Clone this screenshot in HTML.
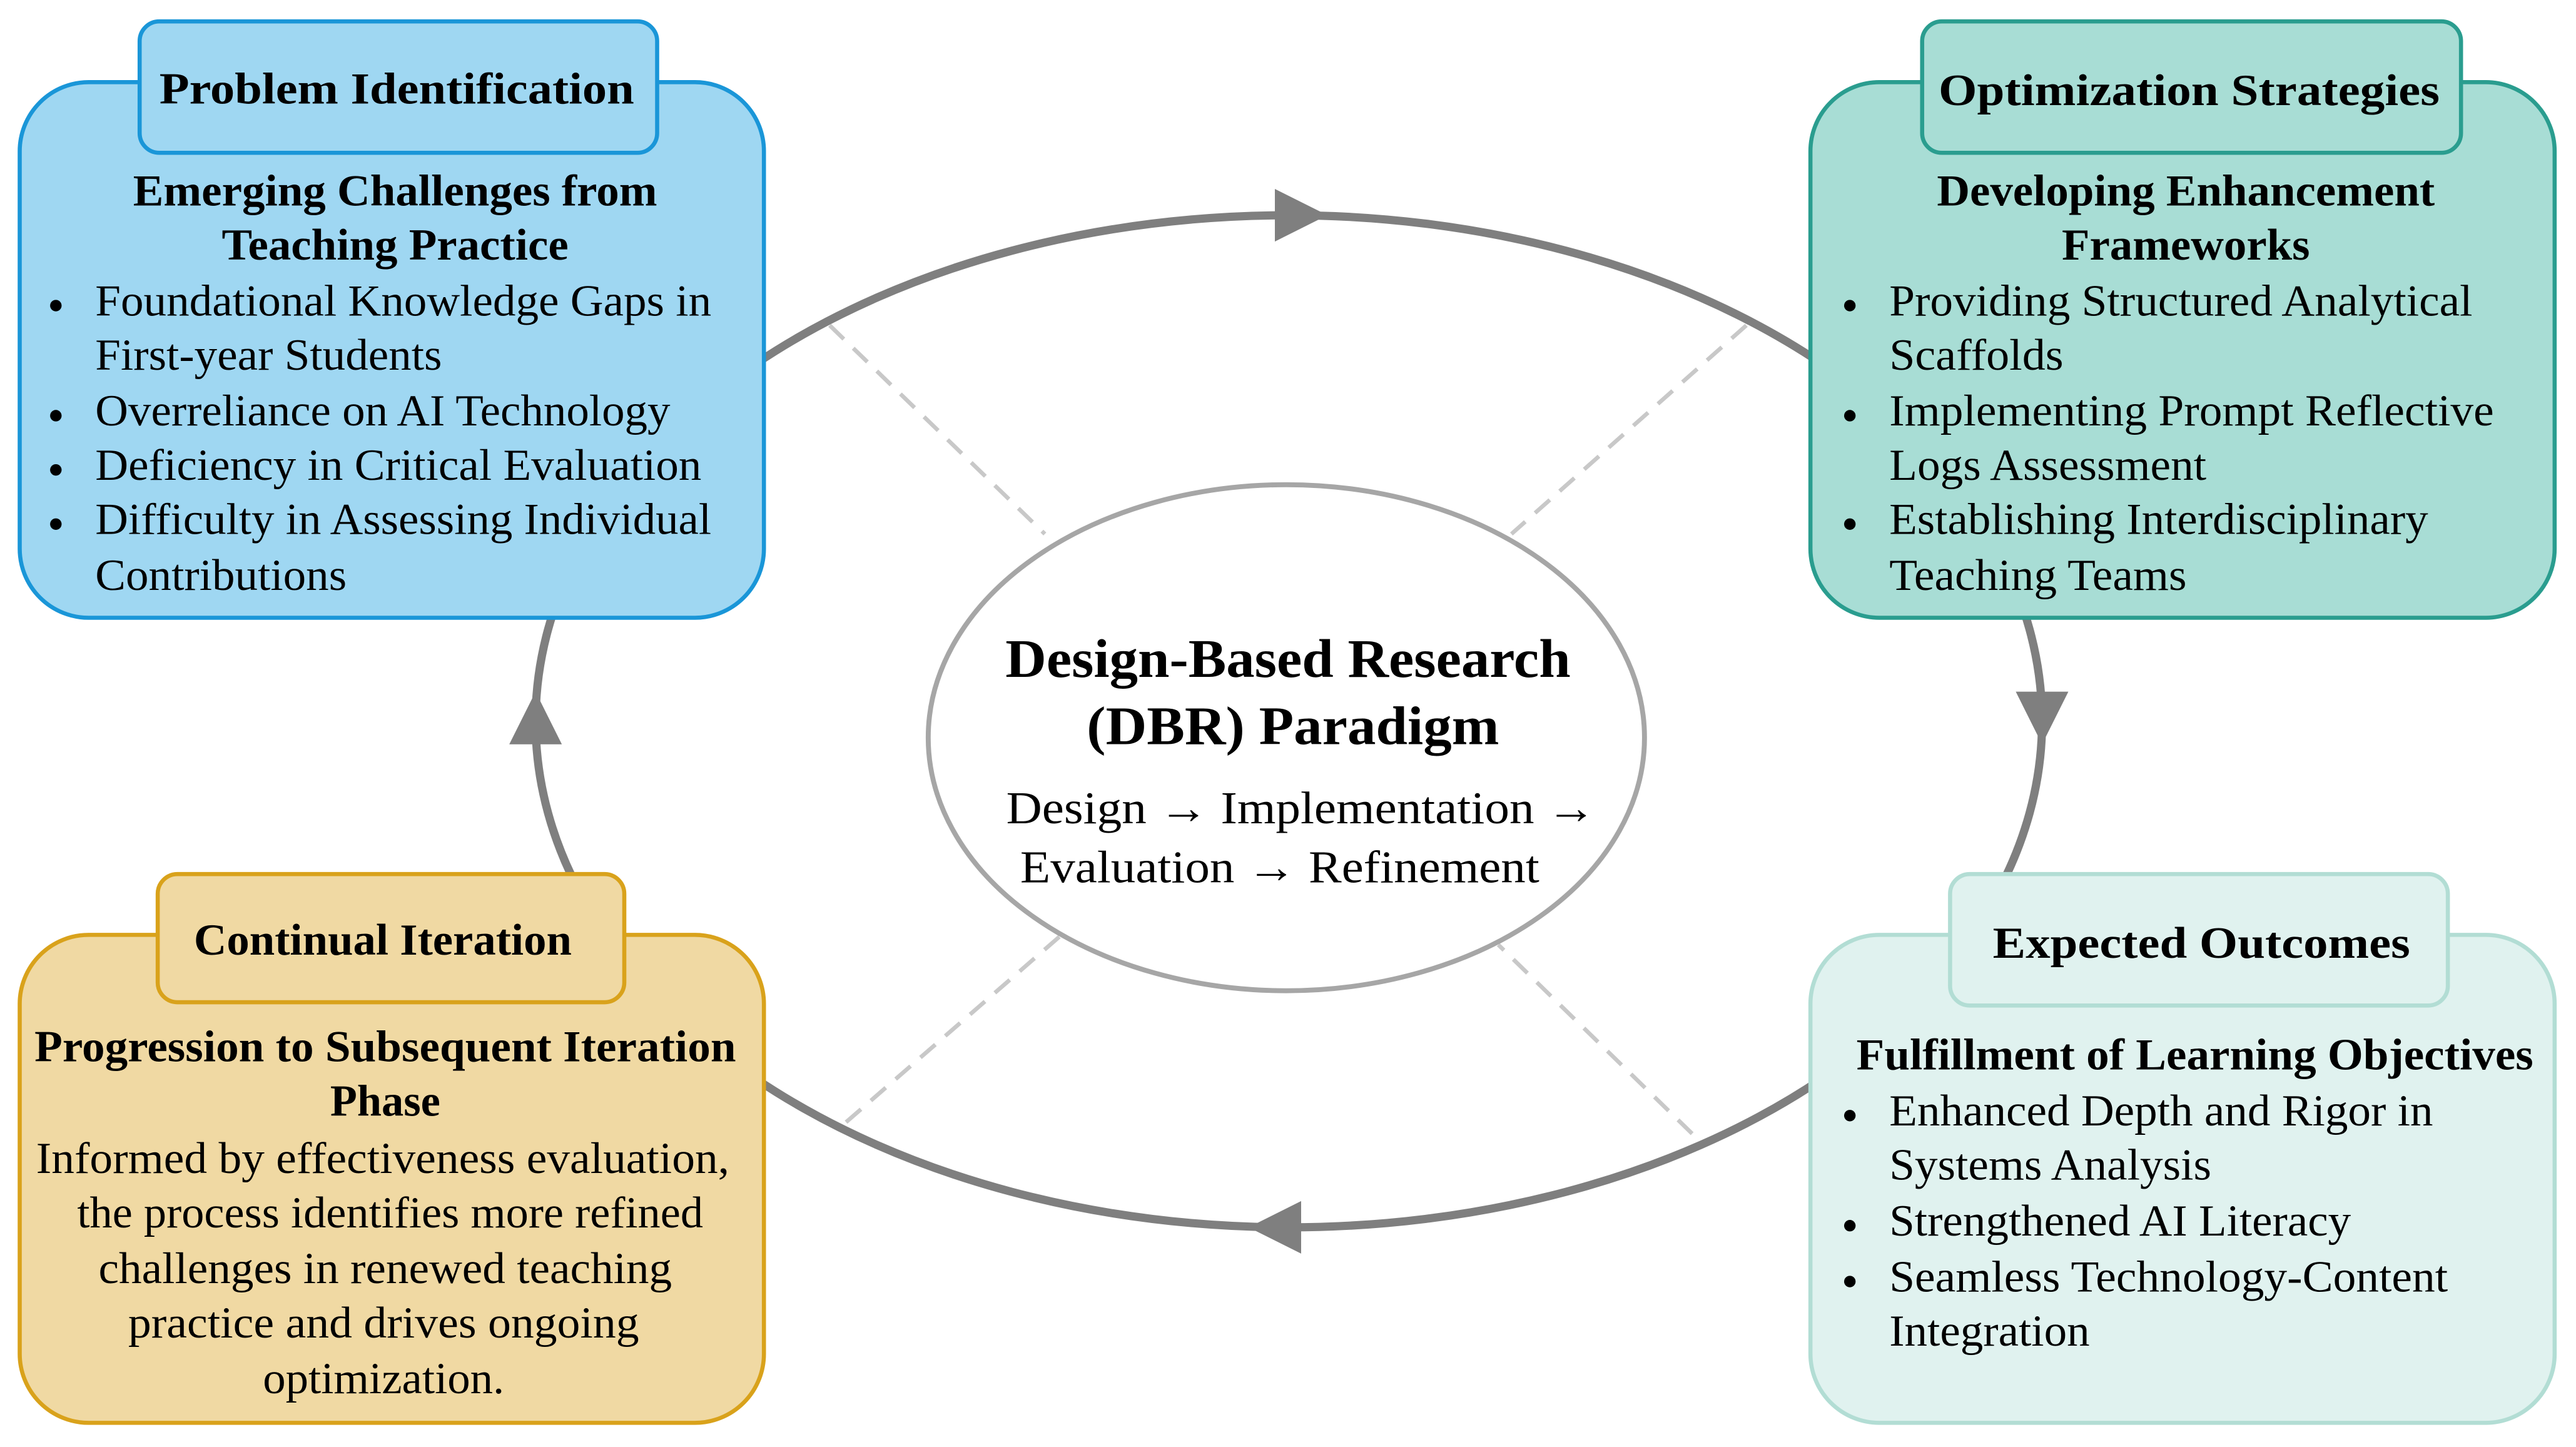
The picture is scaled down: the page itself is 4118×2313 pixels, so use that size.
<!DOCTYPE html>
<html><head><meta charset="utf-8"><style>
html,body{margin:0;padding:0;background:#fff;}
svg{display:block;}
text{font-family:"Liberation Serif",serif;fill:#000;}
.b{font-weight:bold;}
</style></head><body>
<svg width="4118" height="2313" viewBox="0 0 1568 880.7" xmlns="http://www.w3.org/2000/svg">
<rect width="1568" height="881" fill="#fff"/>
<!-- cycle ellipse -->
<ellipse cx="784.5" cy="439" rx="458.5" ry="308" fill="none" stroke="#7f7f7f" stroke-width="5"/>
<!-- dashed spokes -->
<g stroke="#c8c8c8" stroke-width="2.5" stroke-dasharray="12,8" fill="none">
<line x1="505" y1="198" x2="636" y2="325"/>
<line x1="1063" y1="198" x2="920" y2="325"/>
<line x1="515" y1="683" x2="645" y2="570"/>
<line x1="1030" y1="690" x2="912" y2="575"/>
</g>
<!-- arrowheads -->
<g fill="#7f7f7f">
<polygon points="808,131 776,115 776,147"/>
<polygon points="1243,453 1227,421 1259,421"/>
<polygon points="760,747 792,731 792,763"/>
<polygon points="326,421 310,453 342,453"/>
</g>
<!-- center -->
<ellipse cx="783" cy="449" rx="218" ry="154" fill="#fff" stroke="#a6a6a6" stroke-width="3"/>
<text class="b" x="784" y="412" font-size="33" text-anchor="middle" textLength="344" lengthAdjust="spacingAndGlyphs">Design-Based Research</text>
<text class="b" x="787" y="453" font-size="33" text-anchor="middle" textLength="251" lengthAdjust="spacingAndGlyphs">(DBR) Paradigm</text>
<text x="792" y="501" font-size="28" text-anchor="middle" textLength="359" lengthAdjust="spacingAndGlyphs">Design → Implementation →</text>
<text x="779" y="537" font-size="28" text-anchor="middle" textLength="316" lengthAdjust="spacingAndGlyphs">Evaluation → Refinement</text>

<!-- Top-left -->
<rect x="12" y="50" width="453" height="326" rx="42" fill="#9fd7f2" stroke="#1a96d8" stroke-width="2.5"/>
<rect x="85" y="13" width="315" height="80" rx="12" fill="#9fd7f2" stroke="#1a96d8" stroke-width="2.5"/>
<g font-size="27">
<text class="b" x="97" y="63" textLength="289" lengthAdjust="spacingAndGlyphs">Problem Identification</text>
<text class="b" x="81" y="125" textLength="319" lengthAdjust="spacingAndGlyphs">Emerging Challenges from</text>
<text class="b" x="135" y="158" textLength="211" lengthAdjust="spacingAndGlyphs">Teaching Practice</text>
<text x="58" y="192" textLength="375" lengthAdjust="spacingAndGlyphs">Foundational Knowledge Gaps in</text>
<text x="58" y="225" textLength="211" lengthAdjust="spacingAndGlyphs">First-year Students</text>
<text x="58" y="259" textLength="350" lengthAdjust="spacingAndGlyphs">Overreliance on AI Technology</text>
<text x="58" y="292" textLength="369" lengthAdjust="spacingAndGlyphs">Deficiency in Critical Evaluation</text>
<text x="58" y="325" textLength="375" lengthAdjust="spacingAndGlyphs">Difficulty in Assessing Individual</text>
<text x="58" y="359" textLength="153" lengthAdjust="spacingAndGlyphs">Contributions</text>
</g>
<g fill="#000"><circle cx="34" cy="186" r="3.5"/><circle cx="34" cy="253" r="3.5"/><circle cx="34" cy="286" r="3.5"/><circle cx="34" cy="319" r="3.5"/></g>

<!-- Top-right -->
<rect x="1102" y="50" width="453" height="326" rx="42" fill="#a8ddd5" stroke="#2a9d8f" stroke-width="2.5"/>
<rect x="1170" y="13" width="328" height="80" rx="12" fill="#a8ddd5" stroke="#2a9d8f" stroke-width="2.5"/>
<g font-size="27">
<text class="b" x="1180" y="64" textLength="305" lengthAdjust="spacingAndGlyphs">Optimization Strategies</text>
<text class="b" x="1179" y="125" textLength="303" lengthAdjust="spacingAndGlyphs">Developing Enhancement</text>
<text class="b" x="1255" y="158" textLength="151" lengthAdjust="spacingAndGlyphs">Frameworks</text>
<text x="1150" y="192" textLength="355" lengthAdjust="spacingAndGlyphs">Providing Structured Analytical</text>
<text x="1150" y="225" textLength="106" lengthAdjust="spacingAndGlyphs">Scaffolds</text>
<text x="1150" y="259" textLength="368" lengthAdjust="spacingAndGlyphs">Implementing Prompt Reflective</text>
<text x="1150" y="292" textLength="193" lengthAdjust="spacingAndGlyphs">Logs Assessment</text>
<text x="1150" y="325" textLength="328" lengthAdjust="spacingAndGlyphs">Establishing Interdisciplinary</text>
<text x="1150" y="359" textLength="181" lengthAdjust="spacingAndGlyphs">Teaching Teams</text>
</g>
<g fill="#000"><circle cx="1126" cy="186" r="3.5"/><circle cx="1126" cy="253" r="3.5"/><circle cx="1126" cy="319" r="3.5"/></g>

<!-- Bottom-left -->
<rect x="12" y="569" width="453" height="297" rx="42" fill="#f0d9a3" stroke="#d9a21b" stroke-width="2.5"/>
<rect x="96" y="532" width="284" height="78" rx="12" fill="#f0d9a3" stroke="#d9a21b" stroke-width="2.5"/>
<g font-size="27">
<text class="b" x="118" y="581" textLength="230" lengthAdjust="spacingAndGlyphs">Continual Iteration</text>
<text class="b" x="21" y="646" textLength="427" lengthAdjust="spacingAndGlyphs">Progression to Subsequent Iteration</text>
<text class="b" x="201" y="679" textLength="67" lengthAdjust="spacingAndGlyphs">Phase</text>
<text x="22" y="714" textLength="422" lengthAdjust="spacingAndGlyphs">Informed by effectiveness evaluation,</text>
<text x="47" y="747" textLength="381" lengthAdjust="spacingAndGlyphs">the process identifies more refined</text>
<text x="60" y="781" textLength="349" lengthAdjust="spacingAndGlyphs">challenges in renewed teaching</text>
<text x="78" y="814" textLength="311" lengthAdjust="spacingAndGlyphs">practice and drives ongoing</text>
<text x="160" y="848" textLength="147" lengthAdjust="spacingAndGlyphs">optimization.</text>
</g>

<!-- Bottom-right -->
<rect x="1102" y="569" width="453" height="297" rx="42" fill="#e0f2ef" stroke="#b2ddd4" stroke-width="2.5"/>
<rect x="1187" y="532" width="303" height="80" rx="12" fill="#e0f2ef" stroke="#b2ddd4" stroke-width="2.5"/>
<g font-size="27">
<text class="b" x="1213" y="583" textLength="254" lengthAdjust="spacingAndGlyphs">Expected Outcomes</text>
<text class="b" x="1130" y="651" textLength="412" lengthAdjust="spacingAndGlyphs">Fulfillment of Learning Objectives</text>
<text x="1150" y="685" textLength="331" lengthAdjust="spacingAndGlyphs">Enhanced Depth and Rigor in</text>
<text x="1150" y="718" textLength="196" lengthAdjust="spacingAndGlyphs">Systems Analysis</text>
<text x="1150" y="752" textLength="281" lengthAdjust="spacingAndGlyphs">Strengthened AI Literacy</text>
<text x="1150" y="786" textLength="340" lengthAdjust="spacingAndGlyphs">Seamless Technology-Content</text>
<text x="1150" y="819" textLength="122" lengthAdjust="spacingAndGlyphs">Integration</text>
</g>
<g fill="#000"><circle cx="1126" cy="679" r="3.5"/><circle cx="1126" cy="746" r="3.5"/><circle cx="1126" cy="780" r="3.5"/></g>
</svg>
</body></html>
